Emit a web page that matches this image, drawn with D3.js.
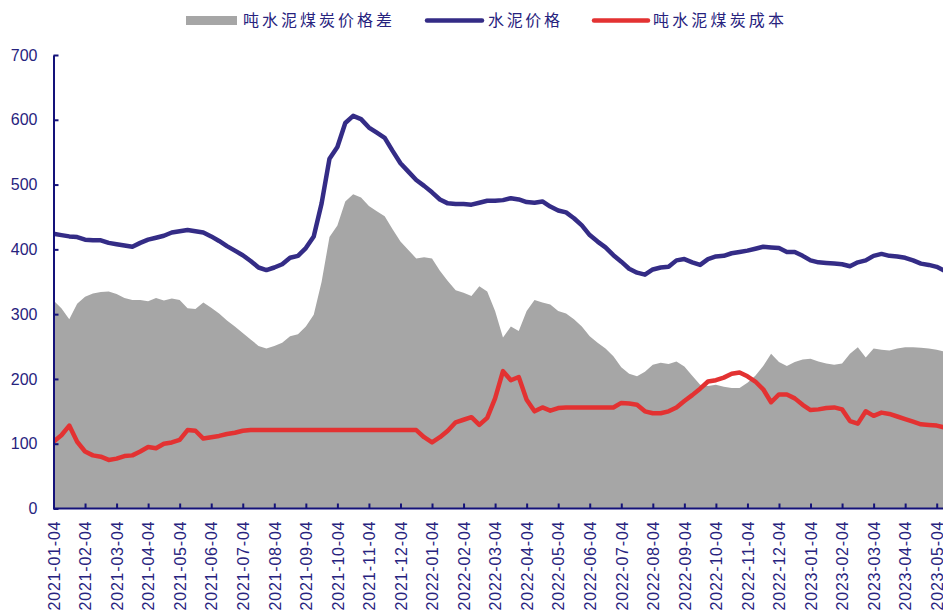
<!DOCTYPE html>
<html>
<head>
<meta charset="utf-8">
<script src="https://cdn.jsdelivr.net/npm/d3@7"></script>
<style>
  html, body { margin: 0; padding: 0; background: #ffffff; }
  svg { display: block; }
</style>
</head>
<body>
<svg id="chart" width="943" height="614"></svg>
<script>
// Month tick labels along the x axis
const monthLabels = [
  "2021-01-04","2021-02-04","2021-03-04","2021-04-04","2021-05-04","2021-06-04",
  "2021-07-04","2021-08-04","2021-09-04","2021-10-04","2021-11-04","2021-12-04",
  "2022-01-04","2022-02-04","2022-03-04","2022-04-04","2022-05-04","2022-06-04",
  "2022-07-04","2022-08-04","2022-09-04","2022-10-04","2022-11-04","2022-12-04",
  "2023-01-04","2023-02-04","2023-03-04","2023-04-04","2023-05-04"
];

// Weekly observations (four per month, starting 2021-01-04)
// 水泥价格 (元/吨)
const cementPrice = [
  424,422,420,419,415,414,414,410,408,406,404,410,415,418,421,426,428,430,428,426,
  420,413,405,398,391,382,372,368,372,377,387,390,402,420,471,540,558,595,606,601,
  588,580,572,552,533,520,507,498,488,477,471,470,470,469,472,475,475,476,479,477,
  473,472,474,466,460,457,448,437,422,412,403,391,381,370,364,361,369,372,373,383,
  385,380,376,385,389,390,394,396,398,401,404,403,402,396,396,390,383,380,379,378,
  377,374,380,383,390,393,390,389,387,383,378,376,373,367
];

// 吨水泥煤炭成本 (元/吨)
const coalCost = [
  103,113,128,103,88,82,80,75,77,81,82,88,95,93,100,102,106,121,120,108,
  110,112,115,117,120,121,121,121,121,121,121,121,121,121,121,121,121,121,121,121,
  121,121,121,121,121,121,121,110,102,110,120,133,137,141,129,140,170,212,198,203,
  168,150,156,151,155,156,156,156,156,156,156,156,163,162,160,150,147,147,150,156,
  166,175,185,196,198,202,208,210,204,196,184,164,176,176,170,160,152,153,155,156,
  153,135,131,150,143,148,146,142,138,134,130,129,128,125
];

// 吨水泥煤炭价格差 (元/吨)
const priceGap = [
  321,309,292,316,327,332,334,335,331,325,322,322,320,325,321,324,322,309,308,318,
  310,301,290,281,271,261,251,247,251,256,266,269,281,299,350,419,437,474,485,480,
  467,459,451,431,412,399,386,388,386,367,351,337,333,328,343,335,305,264,281,274,
  305,322,318,315,305,301,292,281,266,256,247,235,218,208,204,211,222,225,223,227,
  219,205,191,189,191,188,186,186,194,205,220,239,226,220,226,230,231,227,224,222,
  224,239,249,233,247,245,244,247,249,249,248,247,245,242
];

const yTicks = [0, 100, 200, 300, 400, 500, 600, 700];

const legendNames = ["吨水泥煤炭价格差", "水泥价格", "吨水泥煤炭成本"];

// ---- layout ----
const W = 943, H = 614;
const plotLeft = 53.5, plotBottom = 508.5, plotTop = 55;
const axisColor = "#14127a";
const textColor = "#27237e";
const gapColor = "#a6a6a6";
const priceColor = "#342c86";
const costColor = "#e33232";

const svg = d3.select("#chart");

const x = d3.scaleLinear().domain([0, monthLabels.length - 1]).range([plotLeft, 936.7]);
const y = d3.scaleLinear().domain([0, 700]).range([plotBottom, plotTop]);

const pos = (d, i) => x(i / 4);

svg.append("defs").append("clipPath").attr("id", "plot")
  .append("rect").attr("x", plotLeft).attr("y", 0).attr("width", W - plotLeft).attr("height", plotBottom);

const plot = svg.append("g").attr("clip-path", "url(#plot)");

// gray area: price gap
plot.append("path")
  .datum(priceGap)
  .attr("fill", gapColor)
  .attr("d", d3.area().x(pos).y0(y(0)).y1(d => y(d)));

// cement price line
plot.append("path")
  .datum(cementPrice)
  .attr("fill", "none")
  .attr("stroke", priceColor)
  .attr("stroke-width", 4.5)
  .attr("stroke-linejoin", "round")
  .attr("d", d3.line().x(pos).y(d => y(d)));

// coal cost line
plot.append("path")
  .datum(coalCost)
  .attr("fill", "none")
  .attr("stroke", costColor)
  .attr("stroke-width", 4.5)
  .attr("stroke-linejoin", "round")
  .attr("d", d3.line().x(pos).y(d => y(d)));

// y axis
const yAxis = svg.append("g")
  .attr("transform", `translate(${plotLeft},0)`)
  .call(d3.axisLeft(y).tickValues(yTicks).tickSize(-5).tickPadding(16).tickSizeOuter(0));
yAxis.select(".domain").attr("stroke", axisColor).attr("stroke-width", 2);
yAxis.selectAll(".tick line").attr("stroke", axisColor).attr("stroke-width", 2);
yAxis.selectAll(".tick text")
  .attr("fill", textColor)
  .style("font-family", "'Liberation Sans', Arial, sans-serif")
  .style("font-size", "16px");

// x axis
const xAxis = svg.append("g")
  .attr("transform", `translate(0,${plotBottom})`)
  .call(d3.axisBottom(x)
    .tickValues(d3.range(monthLabels.length))
    .tickSize(-5).tickSizeOuter(0)
    .tickFormat(i => monthLabels[i]));
xAxis.select(".domain")
  .attr("d", `M${plotLeft},0H${W}`)
  .attr("stroke", axisColor).attr("stroke-width", 2);
xAxis.selectAll(".tick line").attr("stroke", axisColor).attr("stroke-width", 2);
xAxis.selectAll(".tick text")
  .attr("fill", textColor)
  .attr("text-anchor", "end")
  .attr("transform", "translate(0,13) rotate(-90)")
  .attr("x", 0).attr("y", 0).attr("dy", "0.36em")
  .attr("textLength", 89).attr("lengthAdjust", "spacing")
  .style("font-family", "'Liberation Sans', Arial, sans-serif")
  .style("font-size", "16px");

// legend
const legend = svg.append("g");
const ly = 20.5;
legend.append("rect").attr("x", 186).attr("y", ly - 4.5).attr("width", 51).attr("height", 9).attr("fill", gapColor);
legend.append("line").attr("x1", 427).attr("x2", 482).attr("y1", ly).attr("y2", ly)
  .attr("stroke", priceColor).attr("stroke-width", 4.5).attr("stroke-linecap", "round");
legend.append("line").attr("x1", 594).attr("x2", 648).attr("y1", ly).attr("y2", ly)
  .attr("stroke", costColor).attr("stroke-width", 4.5).attr("stroke-linecap", "round");
const legendX = [243, 488, 653];
const legendW = [149, 72, 131];
legendNames.forEach((name, i) => {
  legend.append("text")
    .attr("x", legendX[i]).attr("y", ly).attr("dy", "0.36em")
    .attr("fill", textColor)
    .attr("textLength", legendW[i]).attr("lengthAdjust", "spacing")
    .style("font-family", "'Noto Sans CJK SC', sans-serif")
    .style("font-size", "16px")
    .text(name);
});
</script>
</body>
</html>
